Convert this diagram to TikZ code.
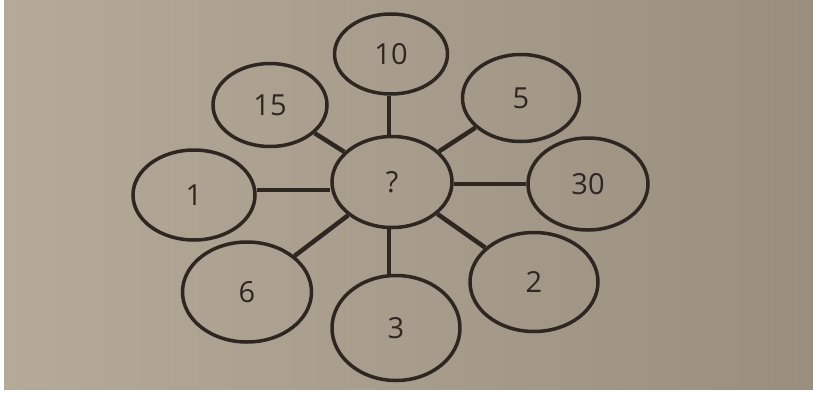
\documentclass[tikz,border=0pt]{standalone}
\usepackage{fontspec}
\setmainfont{Open Sans}
\usepackage{tikz}
\usetikzlibrary{shapes.geometric}
\usepackage{xcolor}
\definecolor{PaperLight}{HTML}{B5A998}
\definecolor{PaperDark}{HTML}{9A8F7F}
\definecolor{InkBrown}{HTML}{2E2620}

\begin{document}
\begin{tikzpicture}[
    x=1pt, y=-1pt,
    font=\fontsize{29}{32}\selectfont,
    bubble/.style={
        ellipse, draw=InkBrown, line width=3.5pt,
        inner sep=0pt, text=InkBrown
    },
    spoke/.style={draw=InkBrown, line width=4.5pt}
]
    % Paper
    \fill[white] (0,0) rectangle (813,394);
    \fill[left color=PaperLight, right color=PaperDark] (4,0) rectangle (813,389);
    \useasboundingbox (0,0) rectangle (813,394);

    % Nodes
    \node[bubble, minimum width=120pt, minimum height=91pt] (quest) at (392,182) {?};
    \node[bubble, minimum width=113pt, minimum height=80pt] (ten) at (391,54) {10};
    \node[bubble, minimum width=114pt, minimum height=83pt] (fifteen) at (270,105) {15};
    \node[bubble, minimum width=117pt, minimum height=87pt] (five) at (521,98) {5};
    \node[bubble, minimum width=122pt, minimum height=90pt] (one) at (194,195) {1};
    \node[bubble, minimum width=120pt, minimum height=92pt] (thirty) at (588,184) {30};
    \node[bubble, minimum width=129pt, minimum height=100pt] (six) at (247,292) {6};
    \node[bubble, minimum width=128pt, minimum height=105pt] (three) at (396,328) {3};
    \node[bubble, minimum width=128pt, minimum height=99pt] (two) at (534,282) {2};

    % Spoke lines (straight ones)
    \coordinate (hleft) at (0,190);
    \coordinate (hright) at (0,184);
    \coordinate (vmid) at (389,0);

    % Spokes
    \path[spoke] (quest.north -| vmid) -- (ten.south -| vmid);
    \path[spoke] (quest.south -| vmid) -- (three.north -| vmid);
    \path[spoke] (quest.west |- hleft) -- (one.east |- hleft);
    \path[spoke] (quest.east |- hright) -- (thirty.west |- hright);
    \path[spoke] (quest) -- (fifteen);
    \path[spoke] (quest) -- (five);
    \path[spoke] (quest) -- (six);
    \path[spoke] (quest) -- (two);

\end{tikzpicture}
\end{document}
